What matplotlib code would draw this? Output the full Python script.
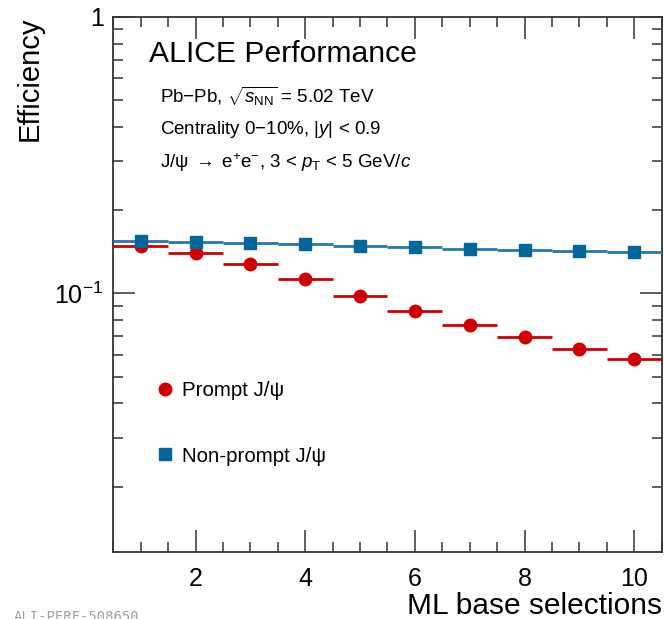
import matplotlib
matplotlib.use("Agg")
import matplotlib.pyplot as plt
from matplotlib.lines import Line2D
from matplotlib.ticker import FixedLocator, FuncFormatter, MultipleLocator, NullFormatter
import numpy as np

plt.rcParams['font.family'] = ['Liberation Sans', 'DejaVu Sans']
plt.rcParams['mathtext.fontset'] = 'custom'
plt.rcParams['mathtext.rm'] = 'Liberation Sans'
plt.rcParams['mathtext.it'] = 'Liberation Sans:italic'
plt.rcParams['mathtext.bf'] = 'Liberation Sans:bold'

# ML base selection index
selections = [1, 2, 3, 4, 5, 6, 7, 8, 9, 10]
eff_prompt = [0.1480, 0.1398, 0.1276, 0.1126, 0.0980, 0.0861, 0.0768, 0.0693, 0.0630, 0.0577]
eff_nonprompt = [0.1545, 0.1529, 0.1516, 0.1504, 0.1483, 0.1467, 0.1449, 0.1434, 0.1422, 0.1410]
bin_half_width = 0.5

red = '#d00000'
blue_mk = '#04679c'
blue_ln = '#2379ae'
axcol = '#333333'

fig = plt.figure(figsize=(6.64, 6.19), dpi=100)
ax = fig.add_axes([0.1706, 0.1087, 0.9965 - 0.1706, 0.9730 - 0.1087])

ax.errorbar(selections, eff_prompt, xerr=bin_half_width, fmt='o', color=red,
            ms=9, elinewidth=2, capsize=0, zorder=3)
ax.errorbar(selections, eff_nonprompt, xerr=bin_half_width, fmt='s', mfc=blue_mk, mec=blue_mk,
            ecolor=blue_ln, ms=9, elinewidth=2, capsize=0, zorder=4)

ax.set_yscale('log')
ax.set_xlim(0.5, 10.5)
ax.set_ylim(0.01164, 1)

ax.xaxis.set_major_locator(MultipleLocator(2))
ax.xaxis.set_minor_locator(MultipleLocator(0.5))
ax.yaxis.set_major_locator(FixedLocator([0.1, 1]))
ax.yaxis.set_minor_locator(FixedLocator([k * 10.0**e for e in (-2, -1) for k in range(2, 10)]))
ax.yaxis.set_major_formatter(FuncFormatter(lambda v, p: '1' if v >= 1 else r'$10^{-1}$'))
ax.yaxis.set_minor_formatter(NullFormatter())

ax.tick_params(which='both', direction='in', top=True, right=True, colors=axcol,
               labelcolor='black', labelsize=18, width=1.1)
ax.tick_params(which='major', length=15.5, pad=7)
ax.tick_params(axis='x', which='major', pad=11)
ax.tick_params(which='minor', length=7.5)
for s in ax.spines.values():
    s.set_color(axcol)
    s.set_linewidth(1.3)

ax.set_ylabel('Efficiency', fontsize=21, loc='top', labelpad=8)
ax.set_xlabel('ML base selections', fontsize=21.5, loc='right', labelpad=1)

ax.text(0.065, 0.93, 'ALICE Performance', transform=ax.transAxes, fontsize=21.7, va='center')
ax.text(0.085, 0.852, r'Pb$-$Pb, $\sqrt{s_{\rm NN}}$ = 5.02 TeV', transform=ax.transAxes,
        fontsize=13.5, va='center')
ax.text(0.085, 0.789, r'Centrality 0$-$10%, |$y$| < 0.9', transform=ax.transAxes,
        fontsize=13.5, va='center')
ax.text(0.085, 0.727, 'J/\u03c8$\\;{\\rightarrow}\\;$e$^{+}$e$^{-}$, 3 < $p_{\\rm T}$ < 5 GeV/$c$',
        transform=ax.transAxes, fontsize=13.5, va='center')

handles = [Line2D([], [], ls='none', marker='o', ms=9, color=red),
           Line2D([], [], ls='none', marker='s', ms=9, color=blue_mk)]
labels = ['Prompt J/\u03c8', 'Non-prompt J/\u03c8']
ax.legend(handles, labels, loc='upper left', bbox_to_anchor=(0.05, 0.353), frameon=False,
          fontsize=14.8, handlelength=0.6, handletextpad=0.5, labelspacing=2.25)

fig.text(0.02, -0.008, 'ALI-PERF-508650', family='DejaVu Sans Mono', fontsize=10,
         color='#a0a0a0', va='bottom')

fig.savefig('out.png', dpi=100)
